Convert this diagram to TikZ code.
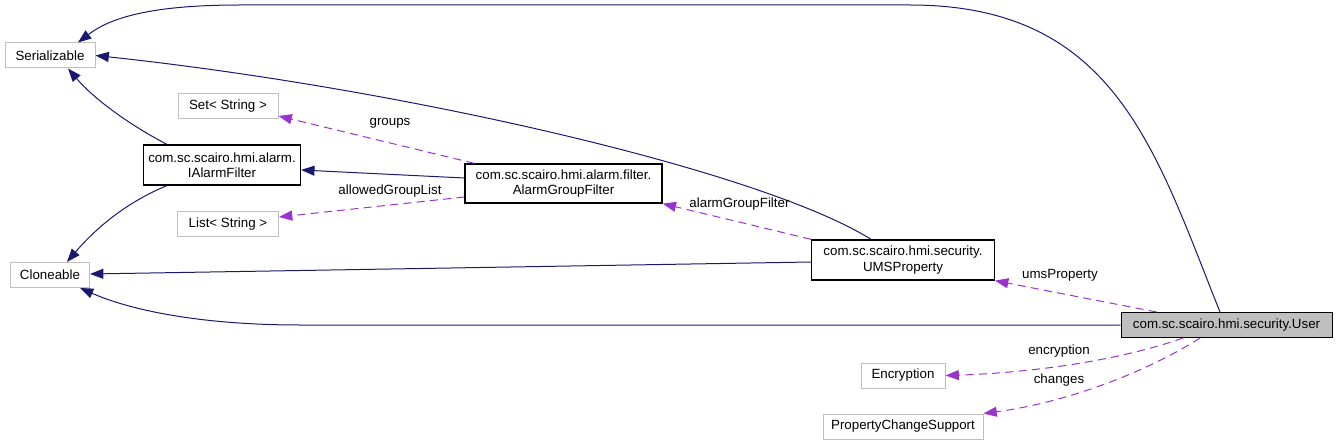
\documentclass[tikz,border=0pt]{standalone}
\usepackage{fontspec}
\setmainfont{Liberation Sans}
\usetikzlibrary{arrows.meta,calc}
\definecolor{edgeblue}{HTML}{191970}
\definecolor{edgepurple}{HTML}{9A32CD}
\definecolor{boxgrey}{HTML}{BFBFBF}

\begin{document}
\begin{tikzpicture}[x=0.75pt,y=-0.75pt,
  font=\fontsize{10pt}{11.5pt}\selectfont,
  cls/.style={draw=boxgrey,line width=0.75pt,fill=white,minimum height=18.75pt,inner sep=0pt,align=center},
  mcls/.style={cls,draw=black,line width=1pt,minimum height=30pt},
  inh/.style={draw=edgeblue,line width=0.75pt,-{Triangle[length=10pt,width=7.5pt]}},
  use/.style={draw=edgepurple,line width=0.75pt,dash pattern=on 6pt off 4pt,-{Triangle[length=10pt,width=7.5pt]}},
  lbl/.style={inner sep=0pt}]
 \useasboundingbox (0,0) rectangle (1337,445);

 % classes on the left
  \node[cls,minimum width=67.5pt] (ser) at (50,55.5) {Serializable};
  \node[cls,minimum width=59.25pt] (cln) at (50,275) {Cloneable};
  \node[cls,minimum width=75pt] (set) at (228,106) {Set< String >};
  \node[cls,minimum width=75.75pt] (lst) at (228,224.5) {List< String >};
  \node[mcls,minimum width=117.75pt] (iaf) at (222,165) {com.sc.scairo.hmi.alarm.\\IAlarmFilter};

 % middle
  \node[mcls,minimum width=147.75pt,minimum height=29.25pt] (agf) at (563.5,183.5) {com.sc.scairo.hmi.alarm.filter.\\AlarmGroupFilter};
  \node[mcls,minimum width=137pt] (ums) at (903,260) {com.sc.scairo.hmi.security.\\UMSProperty};
  \node[cls,minimum width=63pt] (enc) at (903,375.5) {Encryption};
  \node[cls,minimum width=120pt] (pcs) at (903,426.5) {PropertyChangeSupport};

 % user
  \node[cls,draw=black,fill=boxgrey,minimum width=158.25pt] (usr) at (1226.5,325) {com.sc.scairo.hmi.security.User};

 % inheritance
  \draw[inh] ($(usr.north)+(-6.5,0)$) .. controls (1155,150) and (1115,5) .. (910,5)
    -- (240,5) .. controls (150,5) and (110,18) .. ($(ser.north)+(28,0)$);
  \draw[inh] ($(ums.north)+(-32,0)$) .. controls (760,170) and (400,88) .. (ser.east);
  \draw[inh] ($(iaf.north west)+(24,0)$) .. controls (130,125) and (95,100) .. ($(ser.south)+(18,0)$);
  \draw[inh] ($(iaf.south west)+(24,0)$) .. controls (120,205) and (90,235) .. ($(cln.north)+(17,0)$);
  \draw[inh] (agf.west |- 0,178) -- (iaf.east |- 0,170);
  \draw[inh] (ums.west |- 0,262) -- (cln.east |- 0,274);
  \draw[inh] (usr.west) -- (300,325) .. controls (200,325) and (130,310) .. ($(cln.south)+(30,0)$);

 % usage
  \draw[use] ($(agf.north west)+(10,0)$) -- (set.south east |- 0,116);
  \draw[use] (agf.west |- 0,197) -- (lst.east |- 0,217);
  \draw[use] (ums.north west) -- (agf.south east);
  \draw[use] ($(usr.north)+(-70,0)$) -- (ums.south east);
  \draw[use] ($(usr.south)+(-43.5,0)$) .. controls (1115,362) and (1025,373) .. (enc.east);
  \draw[use] ($(usr.south)+(-26.5,0)$) .. controls (1150,370) and (1070,402) .. (pcs.north east);

 % labels
  \node[lbl] (lgroups) at (390,123) {groups};
  \node[lbl] (lallowed) at (390,191) {allowedGroupList};
  \node[lbl] (lagf) at (739.5,204) {alarmGroupFilter};
  \node[lbl] (lums) at (1060,275) {umsProperty};
  \node[lbl] (lenc) at (1059,351) {encryption};
  \node[lbl] (lchg) at (1059,380) {changes};
\end{tikzpicture}
\end{document}
